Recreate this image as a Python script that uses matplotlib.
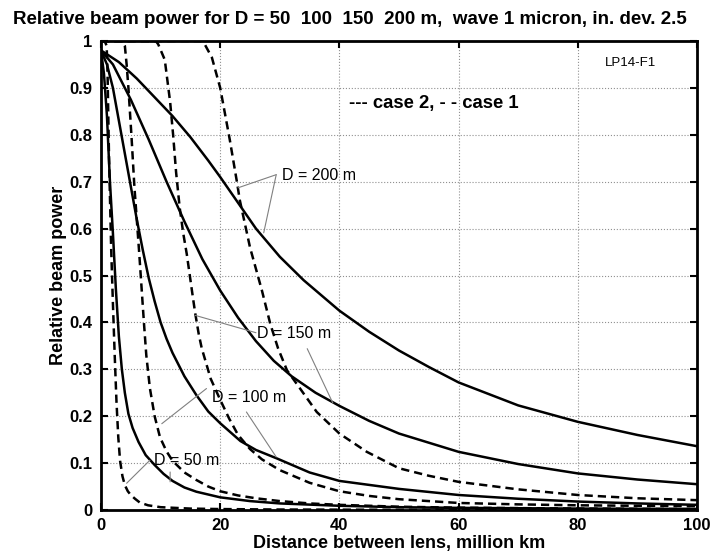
import matplotlib
matplotlib.use('Agg')
import matplotlib.pyplot as plt

plt.rcParams['font.family'] = ['Liberation Sans', 'DejaVu Sans']

# --- dane ---
# case 2 (linia ciągła)
d200_c2_x = [0, 3, 6, 9, 12, 15, 18, 20, 23, 26, 30, 34, 40, 45, 50, 55, 60, 70, 80, 90, 100]
d200_c2_y = [0.98, 0.955, 0.92, 0.88, 0.84, 0.795, 0.745, 0.71, 0.655, 0.60, 0.54, 0.49, 0.425,
             0.38, 0.34, 0.305, 0.272, 0.223, 0.188, 0.16, 0.136]

d150_c2_x = [0, 2, 5, 8, 11, 14, 17, 20, 23, 26, 29, 32, 36, 40, 45, 50, 60, 70, 80, 90, 100]
d150_c2_y = [0.98, 0.95, 0.875, 0.79, 0.70, 0.615, 0.535, 0.468, 0.41, 0.36, 0.318, 0.285, 0.25,
             0.222, 0.19, 0.163, 0.124, 0.098, 0.078, 0.065, 0.055]

d100_c2_x = [0, 1, 2, 3, 4, 5, 6, 7, 8, 9, 10, 11, 12, 14, 16, 18, 20, 23.4, 26, 29.5, 35, 40,
             50, 60, 70, 80, 90, 100]
d100_c2_y = [0.98, 0.95, 0.90, 0.83, 0.76, 0.69, 0.62, 0.555, 0.495, 0.445, 0.40, 0.365, 0.335,
             0.285, 0.245, 0.21, 0.185, 0.147, 0.128, 0.11, 0.08, 0.062, 0.045, 0.032, 0.024,
             0.018, 0.014, 0.011]

d50_c2_x = [0, 0.5, 1, 1.5, 2, 2.5, 3, 3.5, 4, 4.6, 5.3, 6.3, 7.5, 9, 10.5, 12, 14, 16, 20, 25,
            30, 40, 50, 60, 80, 100]
d50_c2_y = [0.98, 0.93, 0.84, 0.70, 0.59, 0.47, 0.37, 0.30, 0.25, 0.205, 0.175, 0.145, 0.117,
            0.096, 0.077, 0.062, 0.048, 0.039, 0.027, 0.019, 0.014, 0.009, 0.006, 0.0045, 0.003,
            0.002]

# case 1 (linia przerywana)
d200_c1_x = [0, 16.8, 17.4, 18.6, 20, 21.6, 22.8, 23.3, 25, 27, 28.4, 29.7, 31.2, 33.4, 36.2,
             40, 44.6, 50, 55, 60, 70, 80, 90, 100]
d200_c1_y = [1.0, 1.0, 0.993, 0.965, 0.90, 0.79, 0.70, 0.66, 0.56, 0.468, 0.397, 0.345, 0.298,
             0.259, 0.209, 0.163, 0.124, 0.089, 0.073, 0.06, 0.044, 0.032, 0.025, 0.021]

d150_c1_x = [0, 9.2, 9.6, 10.7, 11.6, 12.1, 12.6, 13.2, 13.8, 14.4, 14.9, 15.4, 15.8, 16.4, 16.9,
             18.4, 20, 21.5, 23, 25, 27, 30, 35, 40, 45, 50, 60, 70, 80, 90, 100]
d150_c1_y = [1.0, 1.0, 0.993, 0.96, 0.87, 0.80, 0.72, 0.645, 0.59, 0.545, 0.50, 0.455, 0.42,
             0.375, 0.345, 0.28, 0.235, 0.195, 0.16, 0.13, 0.108, 0.085, 0.058, 0.04, 0.03, 0.023,
             0.015, 0.012, 0.01, 0.009, 0.008]

d100_c1_x = [0, 3.6, 4.0, 4.3, 4.6, 5.1, 5.6, 6.0, 6.4, 6.8, 7.2, 7.6, 8.2, 9.0, 9.9, 11, 12, 14,
             16, 18, 20, 23, 26, 30, 35, 40, 50, 60, 80, 100]
d100_c1_y = [1.0, 1.0, 0.99, 0.95, 0.90, 0.80, 0.69, 0.62, 0.55, 0.475, 0.40, 0.33, 0.26, 0.20,
             0.155, 0.125, 0.105, 0.08, 0.064, 0.05, 0.04, 0.031, 0.025, 0.019, 0.014, 0.011,
             0.007, 0.005, 0.003, 0.002]

d50_c1_x = [0, 0.6, 0.95, 1.1, 1.35, 1.7, 2.0, 2.3, 2.6, 2.9, 3.2, 3.6, 4.0, 4.5, 5.0, 5.7, 6.5,
            7.9, 10, 15, 20, 30, 50, 100]
d50_c1_y = [1.0, 1.0, 0.99, 0.93, 0.75, 0.56, 0.44, 0.33, 0.23, 0.155, 0.105, 0.072, 0.053, 0.04,
            0.032, 0.024, 0.016, 0.01, 0.006, 0.003, 0.002, 0.001, 0.0005, 0.0002]

# podpisy krzywych: tekst, pozycja tekstu, początki i końce linii odniesienia
label_texts = ['D = 200 m', 'D = 150 m', 'D = 100 m', 'D = 50 m']
label_pos = [(30.4, 0.713), (26.2, 0.377), (18.6, 0.24), (8.9, 0.106)]
leader_start = [(29.4, 0.715), (26.0, 0.378), (17.7, 0.259), (8.2, 0.106)]
leader_start2 = [(29.4, 0.715), (34.6, 0.344), (24.4, 0.209), (11.6, 0.081)]
leader_ends = [[(23.0, 0.687), (27.3, 0.591)],
               [(15.8, 0.415), (38.9, 0.228)],
               [(10.2, 0.184), (29.4, 0.113)],
               [(4.3, 0.057), (11.6, 0.06)]]

xticks = [0, 20, 40, 60, 80, 100]
yticks = [0, 0.1, 0.2, 0.3, 0.4, 0.5, 0.6, 0.7, 0.8, 0.9, 1]
ytick_labels = ['0', '0.1', '0.2', '0.3', '0.4', '0.5', '0.6', '0.7', '0.8', '0.9', '1']

# --- rysowanie ---
fig = plt.figure(figsize=(7.12, 5.56), dpi=100)
ax = fig.add_axes([101 / 712, 1 - 510 / 556, 596 / 712, 469 / 556])

lw = 1.8
dash = (0, (3.3, 2.0))
for xs, ys in [(d200_c2_x, d200_c2_y), (d150_c2_x, d150_c2_y),
               (d100_c2_x, d100_c2_y), (d50_c2_x, d50_c2_y)]:
    ax.plot(xs, ys, color='black', lw=lw, solid_joinstyle='round')
for xs, ys in [(d200_c1_x, d200_c1_y), (d150_c1_x, d150_c1_y),
               (d100_c1_x, d100_c1_y), (d50_c1_x, d50_c1_y)]:
    ax.plot(xs, ys, color='black', lw=lw, linestyle=dash)

# podpisy z liniami odniesienia
for txt, pos, s1, s2, ends in zip(label_texts, label_pos, leader_start, leader_start2, leader_ends):
    ax.text(pos[0], pos[1], txt, fontsize=11.5, ha='left', va='center')
    ax.annotate('', xy=ends[0], xytext=s1,
                arrowprops=dict(arrowstyle='-', color='#808080', lw=0.8, shrinkA=0, shrinkB=0))
    ax.annotate('', xy=ends[1], xytext=s2,
                arrowprops=dict(arrowstyle='-', color='#808080', lw=0.8, shrinkA=0, shrinkB=0))

ax.text(0.888, 0.953, 'LP14-F1', transform=ax.transAxes, fontsize=9.5, ha='center', va='center')
ax.text(0.559, 0.866, '--- case 2, - - case 1', transform=ax.transAxes, fontsize=13.3,
        fontweight='bold', ha='center', va='center')

ax.set_xlim(0, 100)
ax.set_ylim(0, 1)
ax.set_xticks(xticks)
ax.set_yticks(yticks)
ax.set_yticklabels(ytick_labels)
ax.grid(True, linestyle=':', color='#909090', lw=0.8)
ax.tick_params(direction='in', length=5, width=1.5, top=True, right=True,
               labelsize=12, pad=6)
for lab in ax.get_xticklabels() + ax.get_yticklabels():
    lab.set_fontweight('bold')
for sp in ax.spines.values():
    sp.set_linewidth(2)

ax.set_xlabel('Distance between lens, million km', fontsize=13, fontweight='bold')
ax.set_ylabel('Relative beam power', fontsize=13, fontweight='bold')
ax.xaxis.set_label_coords(0.5, (510 - 535) / 469)
ax.yaxis.set_label_coords((67 - 101) / 596, 0.5)

fig.text(350 / 712, 1 - 20 / 556,
         'Relative beam power for D = 50  100  150  200 m,  wave 1 micron, in. dev. 2.5',
         fontsize=13.5, fontweight='bold', ha='center', va='center')

fig.savefig('out.png', dpi=100)
